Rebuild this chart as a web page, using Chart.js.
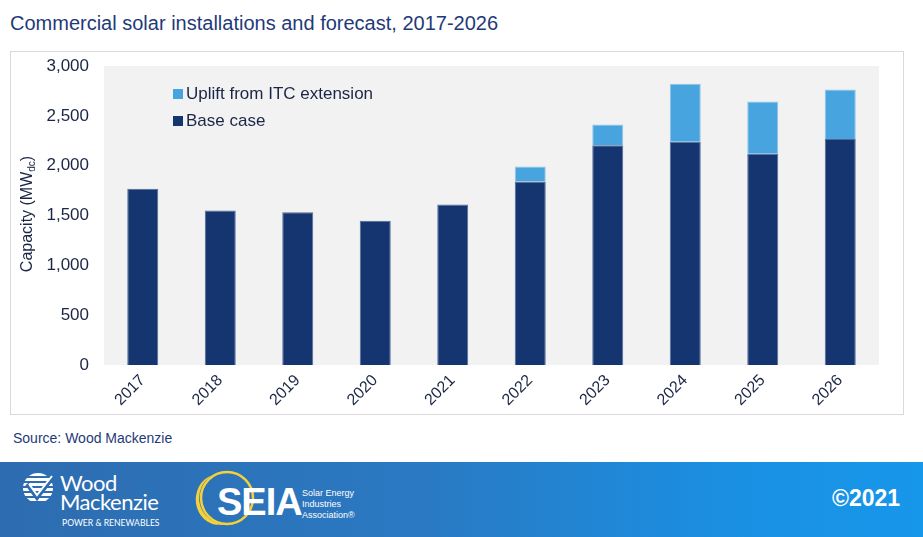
<!DOCTYPE html>
<html>
<head>
<meta charset="utf-8">
<script src="https://cdn.jsdelivr.net/npm/chart.js@4/dist/chart.umd.min.js"></script>
<style>
  body { margin: 0; width: 923px; height: 537px; background: #fff; position: relative; overflow: hidden;
         font-family: "Liberation Sans", Arial, sans-serif; }
  #title { position: absolute; left: 10px; top: 13px; font-size: 20px; line-height: 1; color: #1f3a7a; white-space: nowrap; }
  #frame { position: absolute; left: 10px; top: 51px; width: 894px; height: 364px; box-sizing: border-box; border: 1px solid #d9d9d9; }
  #myChart { position: absolute; left: 10px; top: 51px; }
  #source { position: absolute; left: 13px; top: 431px; font-size: 14px; line-height: 1; color: #1f3a7a; }
  #footer { position: absolute; left: 0; top: 462px; width: 923px; height: 75px;
            background: linear-gradient(90deg, #2e6cb0 0%, #2a79c2 45%, #1a90e3 80%, #1797ea 100%); }
  #footer svg { position: absolute; left: 0; top: 0; }
  #copy { position: absolute; left: 832px; top: 25px; font-size: 23px; font-weight: bold; line-height: 1; color: #fff; }
</style>
</head>
<body>
<div id="title">Commercial solar installations and forecast, 2017-2026</div>
<div id="frame"></div>
<canvas id="myChart" width="894" height="364"></canvas>
<div id="source">Source: Wood Mackenzie</div>
<div id="footer">
  <svg width="923" height="75" viewBox="0 0 923 75">
    <defs>
      <clipPath id="globe"><circle cx="38" cy="26" r="15"/></clipPath>
    </defs>
    <g clip-path="url(#globe)" fill="#fff">
      <rect x="20" y="11" width="40" height="3"/>
      <rect x="20" y="16" width="40" height="3"/>
      <rect x="20" y="21" width="40" height="3"/>
      <rect x="20" y="26" width="40" height="3"/>
      <rect x="20" y="31" width="40" height="3"/>
      <rect x="20" y="36" width="40" height="3"/>
    </g>
    <path d="M27 22 L37 36 L54 14" stroke="#2e6cb0" stroke-width="4" fill="none"/>
    <path d="M29 22 L37 33 L52 14" stroke="#fff" stroke-width="2" fill="none"/>
    <text x="60" y="29" fill="#fff" font-family="Lato, 'Noto Sans', sans-serif" font-size="22" letter-spacing="-0.5">Wood</text>
    <text x="60" y="48" fill="#fff" font-family="Lato, 'Noto Sans', sans-serif" font-size="22" letter-spacing="-0.5">Mackenzie</text>
    <text x="62" y="64" fill="#fff" font-family="Lato, 'Noto Sans', sans-serif" font-size="8.6">POWER &amp; RENEWABLES</text>

    <circle cx="227" cy="36" r="26" fill="none" stroke="#f4d03a" stroke-width="2.5"/>
    <path d="M213 13 A26 26 0 0 0 225 62 A22 24 0 0 1 213 13 Z" fill="#f4d03a"/>
    <text x="217" y="53" fill="#fff" font-family="'Liberation Sans', Arial, sans-serif" font-weight="bold" font-size="38" letter-spacing="-1">SEIA</text>
    <text x="302" y="34" fill="#fff" font-family="'Liberation Sans', Arial, sans-serif" font-size="9">Solar Energy</text>
    <text x="302" y="45" fill="#fff" font-family="'Liberation Sans', Arial, sans-serif" font-size="9">Industries</text>
    <text x="302" y="56" fill="#fff" font-family="'Liberation Sans', Arial, sans-serif" font-size="9">Association®</text>
  </svg>
  <div id="copy">©2021</div>
</div>

<script>
// Datos del grafico
const years    = ["2017", "2018", "2019", "2020", "2021", "2022", "2023", "2024", "2025", "2026"];
const baseCase = [1768, 1550, 1533, 1447, 1611, 1842, 2206, 2240, 2120, 2267];
const uplift   = [null, null, null, null, null, 150, 208, 583, 525, 496];

const colorBase   = "#14356f";
const colorUplift = "#47a4de";
const textColor   = "#1b2545";
const fontFam     = "'Liberation Sans', Arial, sans-serif";

// fondo gris del area de trazado
const plotBg = {
  id: "plotBg",
  beforeDraw(chart) {
    const { ctx, chartArea: a } = chart;
    ctx.save();
    ctx.fillStyle = "#f2f2f2";
    ctx.fillRect(a.left, a.top, a.right - a.left, a.bottom - a.top);
    ctx.restore();
  }
};

// leyenda dentro del grafico
const innerLegend = {
  id: "innerLegend",
  afterDraw(chart) {
    const ctx = chart.ctx;
    const items = [
      { label: chart.data.datasets[1].label, color: colorUplift, y: 43 },
      { label: chart.data.datasets[0].label, color: colorBase, y: 70 }
    ];
    ctx.save();
    ctx.font = "17px " + fontFam;
    ctx.textBaseline = "middle";
    items.forEach(it => {
      ctx.fillStyle = it.color;
      ctx.fillRect(163, it.y - 5, 10, 10);
      ctx.fillStyle = textColor;
      ctx.fillText(it.label, 176, it.y);
    });
    ctx.restore();
  }
};

// titulo del eje Y con subindice
const yTitle = {
  id: "yTitle",
  afterDraw(chart) {
    const ctx = chart.ctx;
    ctx.save();
    ctx.fillStyle = textColor;
    ctx.textBaseline = "alphabetic";
    ctx.font = "16px " + fontFam;
    const p1 = "Capacity (MW", p3 = ")";
    const w1 = ctx.measureText(p1).width, w3 = ctx.measureText(p3).width;
    ctx.font = "10px " + fontFam;
    const w2 = ctx.measureText("dc").width;
    const total = w1 + w2 + w3;
    ctx.translate(21.5, 163);
    ctx.rotate(-Math.PI / 2);
    let x = -total / 2;
    ctx.font = "16px " + fontFam;
    ctx.fillText(p1, x, 0); x += w1;
    ctx.font = "10px " + fontFam;
    ctx.fillText("dc", x, 3); x += w2;
    ctx.font = "16px " + fontFam;
    ctx.fillText(p3, x, 0);
    ctx.restore();
  }
};

const data = {
  labels: years,
  datasets: [
    { label: "Base case", data: baseCase, backgroundColor: colorBase, borderColor: "#4f6a9c", borderWidth: 1 },
    { label: "Uplift from ITC extension", data: uplift, backgroundColor: colorUplift, borderColor: "#8cc6ea", borderWidth: 1 }
  ]
};

const config = {
  type: "bar",
  data,
  plugins: [plotBg, innerLegend, yTitle],
  options: {
    responsive: false,
    animation: false,
    locale: "en-US",
    layout: { padding: { top: 15, right: 25, left: 0, bottom: 0 } },
    datasets: { bar: { barPercentage: 0.4, categoryPercentage: 1.0 } },
    plugins: { legend: { display: false }, tooltip: { enabled: false } },
    scales: {
      x: {
        stacked: true,
        grid: { display: false, drawTicks: false },
        border: { display: false },
        ticks: { color: textColor, font: { family: fontFam, size: 16 }, maxRotation: 45, minRotation: 45, padding: 6 },
        afterFit(axis) { axis.height = 50; }
      },
      y: {
        stacked: true,
        min: 0, max: 3000,
        grid: { display: false, drawTicks: false },
        border: { display: false },
        ticks: { stepSize: 500, color: textColor, font: { family: fontFam, size: 17 }, padding: 15 },
        afterFit(axis) { axis.width = 94; axis.paddingTop = 0; axis.paddingBottom = 0; }
      }
    }
  }
};

new Chart(document.getElementById("myChart"), config);
</script>
</body>
</html>
